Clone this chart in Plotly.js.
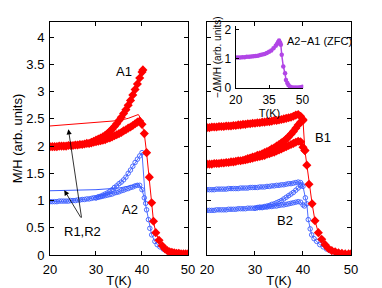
<!DOCTYPE html>
<html><head><meta charset="utf-8">
<script src="https://cdn.plot.ly/plotly-3.0.1.min.js"></script>
<style>html,body{margin:0;padding:0;background:#fff;}#plot{width:382px;height:288px;}</style>
</head><body><div id="plot"></div>
<script>
// ---------- shared temperature grids (K) ----------
const T_lo = [20,20.5,21,21.5,22,22.5,23,23.5,24,24.5,25,25.5,26,26.5,27,27.5,28,28.5,29,29.5,30,30.5,31,31.5,32,32.5,33,33.5,34,34.5,35,35.5,36,36.5,37,37.5,38,38.5,39,39.5,40];

// ---------- left panel: sample A ----------
const A1_low = [1.99,1.99,1.99,1.99,2.00,2.00,2.00,2.00,2.01,2.01,2.01,2.02,2.02,2.03,2.03,2.04,2.05,2.05,2.06,2.07,2.08,2.09,2.10,2.11,2.12,2.14,2.15,2.17,2.19,2.21,2.23,2.25,2.28,2.30,2.33,2.35,2.38,2.41,2.44,2.46,2.40];
const A1_dropT = [40.5,41,41.6,42.1,42.5,43,43.7,44.4,45,45.5,46,46.5,47,47.5,48,48.5,49,49.5,50];
const A1_drop  = [2.23,1.88,1.43,0.96,0.62,0.41,0.27,0.17,0.11,0.08,0.06,0.05,0.04,0.03,0.03,0.02,0.02,0.02,0.02];
const A1_upT = [29,29.5,30,30.5,31,31.5,32,32.5,33,33.5,34,34.5,35,35.5,36,36.5,37,37.5,38,38.5,39,39.5,40,40.2];
const A1_up  = [2.07,2.09,2.11,2.13,2.15,2.17,2.20,2.23,2.27,2.31,2.36,2.41,2.47,2.53,2.60,2.67,2.75,2.84,2.94,3.04,3.14,3.25,3.36,3.40];
const R1_T = [20,25,30,35,37,38.5,39.2,40.3];
const R1   = [2.37,2.40,2.43,2.47,2.51,2.55,2.58,2.43];

const A2_low = [0.98,0.98,0.98,0.98,0.99,0.99,0.99,0.99,0.99,1.00,1.00,1.00,1.01,1.01,1.02,1.02,1.03,1.03,1.04,1.05,1.05,1.06,1.07,1.08,1.09,1.10,1.11,1.12,1.14,1.15,1.16,1.18,1.19,1.21,1.22,1.24,1.25,1.27,1.28,1.28,1.20];
const A2_dropT = [40.5,41,41.4,41.7,42.1,42.8,43.3,43.9,44.6,45.4,46,46.5,47,47.5,48,48.5,49,49.5,50];
const A2_drop  = [1.05,0.83,0.65,0.49,0.37,0.25,0.19,0.15,0.11,0.08,0.06,0.05,0.04,0.03,0.03,0.02,0.02,0.02,0.02];
const A2_upT = [30,30.5,31,31.5,32,32.5,33,33.5,34,34.5,35,35.5,36,36.5,37,37.5,38,38.5,39,39.5,40,40.8];
const A2_up  = [1.05,1.07,1.08,1.10,1.12,1.14,1.17,1.20,1.24,1.27,1.31,1.34,1.38,1.43,1.50,1.56,1.63,1.70,1.76,1.82,1.88,0.95];
const R2_T = [20,25,30,35,37,38.5,39.2,40.2];
const R2   = [1.18,1.19,1.20,1.23,1.26,1.29,1.31,1.18];

// ---------- right panel: sample B ----------
const B1_topT = [20,20.5,21,21.5,22,22.5,23,23.5,24,24.5,25,25.5,26,26.5,27,27.5,28,28.5,29,29.5,30,30.5,31,31.5,32,32.5,33,33.5,34,34.5,35,35.5,36,36.5,37,37.5,38,38.5,39,39.5,40];
const B1_top  = [2.34,2.34,2.35,2.35,2.35,2.36,2.36,2.36,2.37,2.37,2.37,2.38,2.38,2.39,2.39,2.40,2.40,2.41,2.41,2.42,2.42,2.43,2.43,2.44,2.44,2.45,2.45,2.46,2.47,2.47,2.48,2.49,2.50,2.51,2.52,2.53,2.55,2.57,2.58,2.55,2.47];
const B1_dropT = [40.4,40.8,41.25,41.9,42.5,43.2,43.9,44.6,45.3,46,46.7,47.4,48.1,48.8,49.5,50];
const B1_drop  = [1.92,1.65,1.30,0.94,0.63,0.41,0.29,0.19,0.12,0.08,0.06,0.04,0.03,0.02,0.02,0.02];
const B1_lowT = [20,20.5,21,21.5,22,22.5,23,23.5,24,24.5,25,25.5,26,26.5,27,27.5,28,28.5,29,29.5,30,30.5,31,31.5,32,32.5,33,33.5,34,34.5,35,35.5,36,36.5,37,37.5,38,38.5,39,39.5,40,40.4];
const B1_low  = [1.67,1.67,1.67,1.68,1.68,1.68,1.69,1.69,1.70,1.70,1.71,1.71,1.72,1.73,1.73,1.74,1.75,1.76,1.77,1.78,1.79,1.80,1.81,1.82,1.83,1.85,1.86,1.88,1.89,1.91,1.93,1.95,1.97,1.99,2.01,2.03,2.05,2.07,2.09,2.08,1.98,1.92];
const B1_upT = [28,28.5,29,29.5,30,30.5,31,31.5,32,32.5,33,33.5,34,34.5,35,35.5,36,36.5,37,37.5,38,38.5,39,39.5,40];
const B1_up  = [1.75,1.77,1.78,1.80,1.81,1.83,1.84,1.86,1.88,1.90,1.92,1.95,1.97,2.00,2.03,2.06,2.09,2.13,2.17,2.22,2.27,2.33,2.39,2.44,2.49];

const B2_top  = [1.20,1.20,1.20,1.20,1.21,1.21,1.21,1.21,1.21,1.22,1.22,1.22,1.22,1.22,1.23,1.23,1.23,1.23,1.24,1.24,1.24,1.24,1.25,1.25,1.25,1.26,1.26,1.27,1.27,1.28,1.28,1.29,1.29,1.30,1.31,1.31,1.32,1.33,1.34,1.33,1.26];
const B2_dropT = [40.5,40.8,41.1,41.5,41.8,42.3,42.85,43.5,44.2,44.9,45.6,46.3,47,47.7,48.4,49.1,49.8];
const B2_drop  = [1.05,0.94,0.65,0.48,0.37,0.30,0.25,0.19,0.15,0.11,0.08,0.06,0.04,0.03,0.02,0.02,0.02];
const B2_lowT = [20,20.5,21,21.5,22,22.5,23,23.5,24,24.5,25,25.5,26,26.5,27,27.5,28,28.5,29,29.5,30,30.5,31,31.5,32,32.5,33,33.5,34,34.5,35,35.5,36,36.5,37,37.5,38,38.5,39,39.5,40,40.3];
const B2_low  = [0.82,0.82,0.82,0.82,0.83,0.83,0.83,0.83,0.83,0.84,0.84,0.84,0.84,0.85,0.85,0.85,0.85,0.86,0.86,0.86,0.86,0.87,0.87,0.87,0.88,0.88,0.89,0.89,0.90,0.90,0.91,0.92,0.92,0.93,0.94,0.95,0.96,0.97,0.98,0.97,0.92,0.90];
const B2_upT = [30,30.5,31,31.5,32,32.5,33,33.5,34,34.5,35,35.5,36,36.5,37,37.5,38,38.5,39,39.5,39.8];
const B2_up  = [0.86,0.87,0.88,0.88,0.89,0.90,0.91,0.93,0.94,0.96,0.98,1.00,1.03,1.06,1.09,1.12,1.15,1.19,1.23,1.27,1.29];

// ---------- inset: A2 - A1 (ZFC) ----------
const D_T = [20,21,22,23,24,25,26,27,28,29,30,31,32,33,34,35,36,37,38,38.5,39,39.5,40,40.3,40.7,41.4,42.2,42.6,43.2,43.7,44.3,45,46,47,48,49,50];
const D   = [1.05,1.05,1.05,1.06,1.06,1.07,1.07,1.08,1.09,1.10,1.11,1.13,1.15,1.17,1.20,1.24,1.29,1.36,1.45,1.50,1.57,1.63,1.55,1.48,1.14,0.74,0.51,0.28,0.18,0.11,0.06,0.04,0.03,0.03,0.03,0.04,0.05];

// ---------- styles ----------
const RED = '#ff0000', BLUE = '#3a5cff', PURP = '#b145e6';
const FONT = 'Liberation Sans, Arial, sans-serif';
const redM = {symbol:'diamond', size:7, color:RED};
const blueM = {symbol:'circle-open', size:4.5, color:BLUE, line:{width:0.9, color:BLUE}};

function tr(x, y, xa, ya, mode, marker, line){
  const t = {x:x, y:y, xaxis:xa, yaxis:ya, mode:mode, type:'scatter', line:line, showlegend:false, hoverinfo:'skip'};
  if (marker) t.marker = marker;
  return t;
}

const data = [
  // left
  tr(R1_T, R1, 'x', 'y', 'lines', null, {color:RED, width:1}),
  tr(R2_T, R2, 'x', 'y', 'lines', null, {color:BLUE, width:1}),
  tr(A2_upT, A2_up, 'x', 'y', 'lines+markers', blueM, {color:BLUE, width:0.9}),
  tr(T_lo.concat(A2_dropT), A2_low.concat(A2_drop), 'x', 'y', 'lines+markers', blueM, {color:BLUE, width:0.9}),
  tr(A1_upT, A1_up, 'x', 'y', 'lines+markers', redM, {color:RED, width:1}),
  tr(T_lo.concat(A1_dropT), A1_low.concat(A1_drop), 'x', 'y', 'lines+markers', redM, {color:RED, width:1}),
  // right
  tr(B2_upT, B2_up, 'x2', 'y2', 'lines+markers', blueM, {color:BLUE, width:0.9}),
  tr(B2_lowT, B2_low, 'x2', 'y2', 'lines+markers', blueM, {color:BLUE, width:0.9}),
  tr(B1_topT.concat(B2_dropT), B2_top.concat(B2_drop), 'x2', 'y2', 'lines+markers', blueM, {color:BLUE, width:0.9}),
  tr(B1_upT, B1_up, 'x2', 'y2', 'lines+markers', redM, {color:RED, width:1}),
  tr(B1_lowT, B1_low, 'x2', 'y2', 'lines+markers', redM, {color:RED, width:1}),
  tr(B1_topT.concat(B1_dropT), B1_top.concat(B1_drop), 'x2', 'y2', 'lines+markers', redM, {color:RED, width:1}),
  // inset
  tr(D_T, D, 'x3', 'y3', 'lines+markers', {symbol:'circle', size:4.5, color:PURP}, {color:PURP, width:1.5})
];

const tickF = {family:FONT, size:13, color:'#000'};
const frame = {showline:true, linecolor:'#000', linewidth:1, mirror:'ticks', ticks:'inside', ticklen:4, tickcolor:'#000', showgrid:false, zeroline:false, tickfont:tickF};
const yTicks = [0,0.5,1,1.5,2,2.5,3,3.5,4];

const layout = {
  width:382, height:288, margin:{l:0,r:0,t:0,b:0},
  paper_bgcolor:'#fff', plot_bgcolor:'rgba(0,0,0,0)',
  font:{family:FONT, color:'#000'},
  xaxis: Object.assign({}, frame, {domain:[0.1309,0.4921], range:[20,50], tickvals:[20,30,40,50], anchor:'y', ticklabelstandoff:2,
    title:{text:'T(K)', font:{family:FONT, size:13}, standoff:2}}),
  yaxis: Object.assign({}, frame, {domain:[0.1146,0.9236], range:[0,4.28], tickvals:yTicks, anchor:'x', ticklabelstandoff:2,
    title:{text:'M/H (arb. units)', font:{family:FONT, size:13}, standoff:0}}),
  xaxis2: Object.assign({}, frame, {domain:[0.5419,0.9188], range:[20,50], tickvals:[20,30,40,50], anchor:'y2', ticklabelstandoff:2,
    title:{text:'T(K)', font:{family:FONT, size:13}, standoff:2}}),
  yaxis2: Object.assign({}, frame, {domain:[0.1146,0.9236], range:[0,4.28], tickvals:yTicks, anchor:'x2', showticklabels:false}),
  xaxis3: {domain:[0.617,0.794], range:[20,50.4], tickvals:[20,35,50], anchor:'y3', showline:true, linecolor:'#000', linewidth:1,
    ticks:'inside', ticklen:3, tickcolor:'#000', showgrid:false, zeroline:false, tickfont:{family:FONT, size:12}, ticklabelstandoff:0,
    title:{text:'T(K)', font:{family:FONT, size:11}, standoff:0}},
  yaxis3: {domain:[0.6934,0.9097], range:[0,2.12], tickvals:[0,1,2], anchor:'x3', showline:true, linecolor:'#000', linewidth:1,
    ticks:'inside', ticklen:3, tickcolor:'#000', showgrid:false, zeroline:false, tickfont:{family:FONT, size:12}, ticklabelstandoff:1,
    title:{text:'\u2212\u0394M/H (arb. units)', font:{family:FONT, size:10}, standoff:1}},
  annotations: [
    {text:'A1', x:36.1, y:3.37, xref:'x', yref:'y', showarrow:false, font:{family:FONT, size:13}},
    {text:'A2', x:37.4, y:0.83, xref:'x', yref:'y', showarrow:false, font:{family:FONT, size:13}},
    {text:'R1,R2', x:27.1, y:0.44, xref:'x', yref:'y', showarrow:false, font:{family:FONT, size:13}},
    {text:'', x:24.0, y:2.31, ax:26.9, ay:0.66, xref:'x', yref:'y', axref:'x', ayref:'y', showarrow:true, arrowhead:2, arrowsize:1.3, arrowwidth:0.8, arrowcolor:'#000', standoff:0},
    {text:'', x:23.1, y:1.19, ax:26.9, ay:0.66, xref:'x', yref:'y', axref:'x', ayref:'y', showarrow:true, arrowhead:2, arrowsize:1.3, arrowwidth:0.8, arrowcolor:'#000', standoff:0},
    {text:'B1', x:44.2, y:2.15, xref:'x2', yref:'y2', showarrow:false, font:{family:FONT, size:13}},
    {text:'B2', x:36.3, y:0.64, xref:'x2', yref:'y2', showarrow:false, font:{family:FONT, size:13}},
    {text:'A2\u2212A1 (ZFC)', x:0.746, y:0.859, xref:'paper', yref:'paper', xanchor:'left', yanchor:'middle', showarrow:false, font:{family:FONT, size:11}}
  ]
};

Plotly.newPlot('plot', data, layout, {displayModeBar:false, staticPlot:true});
</script></body></html>
